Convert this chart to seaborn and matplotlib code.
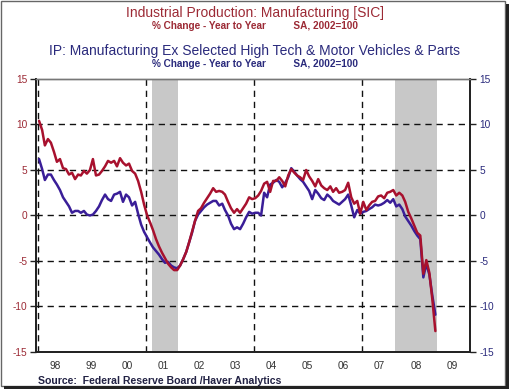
import matplotlib
matplotlib.use("Agg")
import matplotlib.dates as mdates
import matplotlib.patches as mpatches
import matplotlib.pyplot as plt
import pandas as pd
import seaborn as sns

# monthly % change year to year, Jan 1998 - Jan 2009
mfg_sic = [
    10.4, 9.4, 7.7, 8.4, 8.0, 7.0, 5.9, 6.2, 5.2, 5.1, 4.5, 4.7,
    4.0, 4.5, 4.4, 4.9, 4.6, 5.0, 6.2, 4.4, 4.5, 4.9, 5.4, 6.0,
    5.8, 6.0, 5.4, 6.3, 5.8, 5.5, 5.7, 4.9, 4.6, 3.8, 2.6, 1.2,
    0.0, -0.8, -1.6, -2.6, -3.4, -4.1, -4.7, -5.3, -5.7, -6.0, -6.0, -5.5,
    -4.8, -4.0, -3.0, -1.8, -0.6, 0.5, 0.8, 1.4, 1.9, 2.4, 3.0, 2.6,
    2.7, 2.6, 2.3, 1.5, 0.8, 0.3, 0.7, 0.3, 0.8, 1.3, 2.0, 1.8,
    1.9, 2.2, 2.7, 3.5, 3.7, 2.6, 3.8, 3.8, 4.2, 3.8, 3.2, 4.4,
    5.1, 4.7, 4.4, 4.2, 3.9, 5.0, 4.3, 3.8, 3.2, 4.0, 3.3, 3.0,
    2.8, 3.2, 2.6, 3.0, 2.5, 2.6, 2.8, 3.6, 2.0, 1.3, 1.6, 0.2,
    1.5, 0.6, 1.1, 1.5, 1.6, 2.1, 2.2, 1.9, 2.5, 2.6, 2.8, 2.2,
    2.5, 2.2, 1.5, 0.4, -0.3, -1.1, -1.9, -2.2, -6.4, -4.9, -6.3, -9.2,
    -12.7,
]
mfg_ex_hitech_autos = [
    6.2, 5.1, 3.9, 4.5, 4.5, 3.9, 3.4, 2.8, 2.0, 1.5, 1.0, 0.3,
    0.5, 0.5, 0.3, 0.5, 0.1, 0.0, 0.1, 0.5, 1.0, 1.7, 2.3, 1.8,
    1.6, 2.3, 2.4, 2.6, 1.5, 2.3, 2.0, 1.1, 1.5, 0.2, -1.0, -1.8,
    -2.4, -3.0, -3.5, -3.9, -4.3, -4.8, -5.2, -5.1, -5.5, -5.7, -5.8, -5.5,
    -4.8, -4.0, -3.0, -1.9, -0.6, 0.1, 0.5, 0.9, 1.2, 1.4, 1.6, 1.6,
    1.1, 1.3, 0.6, 0.0, -0.9, -1.5, -1.3, -1.5, -0.9, -0.2, 0.4, 0.2,
    0.3, 0.3, 0.0, 2.5, 2.0, 3.4, 3.6, 3.9, 3.7, 3.1, 3.6, 4.2,
    5.2, 4.8, 4.4, 4.0, 3.7, 3.2, 2.7, 1.8, 2.8, 2.4, 1.9, 1.7,
    2.3, 2.0, 1.6, 1.4, 1.2, 1.5, 1.8, 2.3, 1.1, -0.2, 0.6, 0.2,
    0.4, 0.5, 0.7, 0.9, 1.2, 1.1, 1.2, 1.4, 1.7, 1.4, 1.8, 1.0,
    1.2, 0.7, -0.1, -0.6, -1.1, -1.7, -2.2, -2.6, -6.8, -5.3, -6.5, -8.8,
    -10.9,
]
recessions = [("2001-03-01", "2001-11-20"), ("2007-12-01", "2009-02-05")]
year_labels = ["98", "99", "00", "01", "02", "03", "04", "05", "06", "07", "08", "09"]
y_ticks = [-15, -10, -5, 0, 5, 10, 15]

dates = pd.date_range("1998-01-01", periods=len(mfg_sic), freq="MS") + pd.Timedelta(days=14)
df = pd.DataFrame({"date": dates, "sic": mfg_sic, "ex": mfg_ex_hitech_autos})

RED = "#a8112e"
NAVY = "#3a1e98"
TITLE_RED = "#9c2a35"
TITLE_NAVY = "#2a2a7c"

sns.set_style("white")
plt.rcParams["font.family"] = ["Liberation Sans", "DejaVu Sans"]

fig = plt.figure(figsize=(5.10, 3.89), dpi=100)
ax = fig.add_axes([36 / 510, 1 - 352 / 389, 434 / 510, 273 / 389])

for a, b in recessions:
    ax.axvspan(pd.Timestamp(a), pd.Timestamp(b), color="#c8c8c8", lw=0, zorder=0)

dash = (0, (4.5, 3.5))
for v in [-10, -5, 0, 5, 10]:
    ax.axhline(v, color="#111111", lw=1.0, ls=dash, zorder=1)
for yr in [1998, 2001, 2004, 2007]:
    ax.axvline(pd.Timestamp(f"{yr}-01-01"), color="#111111", lw=1.0, ls=dash, zorder=1)

sns.lineplot(data=df, x="date", y="ex", ax=ax, color=NAVY, lw=1.8, zorder=3)
sns.lineplot(data=df, x="date", y="sic", ax=ax, color=RED, lw=1.8, zorder=4)

ax.set_xlim(pd.Timestamp("1997-12-15"), pd.Timestamp("2010-01-01"))
ax.set_ylim(-15, 15)
ax.set_xlabel("")
ax.set_ylabel("")

# x axis: year boundaries as ticks, quarters as minor ticks, labels mid-year
ax.xaxis.set_major_locator(mdates.YearLocator())
ax.xaxis.set_minor_locator(mdates.MonthLocator(bymonth=[4, 7, 10]))
ax.set_xticklabels([])
ax.tick_params(axis="x", which="major", length=5, width=1.2, color="#222222", direction="out")
ax.tick_params(axis="x", which="minor", length=2.5, width=0.8, color="#222222", direction="out")
for i, lab in enumerate(year_labels):
    ax.text(pd.Timestamp(f"{1998 + i}-07-01"), -16.0, lab, ha="center", va="top",
            fontsize=7.3, color="#333333")

ax.set_yticks(y_ticks)
ax.set_yticklabels([str(t) for t in y_ticks], fontsize=7.3, color=TITLE_RED)
ax.tick_params(axis="y", length=4, width=1, color="#222222", direction="out", pad=2)

ax2 = ax.twinx()
ax2.set_ylim(-15, 15)
ax2.set_yticks(y_ticks)
ax2.set_yticklabels([str(t) for t in y_ticks], fontsize=7.3, color=TITLE_NAVY)
ax2.tick_params(axis="y", length=4, width=1, color="#222222", direction="out", pad=3)

for a in (ax, ax2):
    for s in ["left", "bottom", "right"]:
        a.spines[s].set_color("#222222")
        a.spines[s].set_linewidth(1.3)
        a.spines[s].set_visible(True)
    a.spines["top"].set_color("#777777")
    a.spines["top"].set_linewidth(1.0)

fig.text(0.5, 1 - 13 / 389, "Industrial Production: Manufacturing [SIC]",
         ha="center", va="center", fontsize=10, color=TITLE_RED)
fig.text(0.5, 1 - 26 / 389, "% Change - Year to Year          SA, 2002=100",
         ha="center", va="center", fontsize=7.2, color=TITLE_RED, fontweight="bold")
fig.text(0.5, 1 - 51 / 389, "IP: Manufacturing Ex Selected High Tech & Motor Vehicles & Parts",
         ha="center", va="center", fontsize=10, color=TITLE_NAVY)
fig.text(0.5, 1 - 64 / 389, "% Change - Year to Year          SA, 2002=100",
         ha="center", va="center", fontsize=7.2, color=TITLE_NAVY, fontweight="bold")
fig.text(38 / 510, 1 - 381 / 389, "Source:  Federal Reserve Board /Haver Analytics",
         ha="left", va="center", fontsize=7.6, color="#222244", fontweight="bold")

# outer frame with drop shadow
fig.patches.append(mpatches.Rectangle((0.5 / 510, 3 / 389), 505 / 510, 385.5 / 389,
                                      transform=fig.transFigure, fill=False,
                                      edgecolor="#666666", lw=1.0))
fig.patches.append(mpatches.Rectangle((506 / 510, 0), 4 / 510, 385 / 389,
                                      transform=fig.transFigure, color="#222222", lw=0))
fig.patches.append(mpatches.Rectangle((4 / 510, 0), 506 / 510, 3 / 389,
                                      transform=fig.transFigure, color="#222222", lw=0))

fig.savefig("out.png", dpi=100)
